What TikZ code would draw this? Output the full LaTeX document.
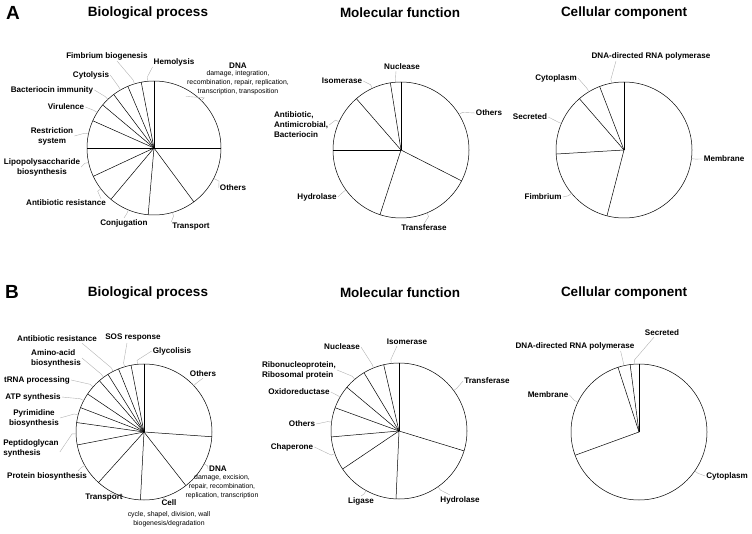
\documentclass[tikz,border=0pt]{standalone}
\usepackage{fontspec}
\setmainfont{Liberation Sans}
\usepackage{tikz}

\begin{document}
\begin{tikzpicture}[x=1pt,y=1pt,
  panel/.style={font=\fontsize{19}{22}\selectfont\bfseries},
  ptitle/.style={font=\fontsize{13.5}{16}\selectfont\bfseries},
  lbl/.style={font=\fontsize{8.1}{10}\selectfont\bfseries,inner sep=1pt,align=center},
  sub/.style={font=\fontsize{6.9}{9}\selectfont,inner sep=1pt,align=center},
  pie/.style={line width=0.5pt},
  leader/.style={draw=black!30,line width=0.4pt}]
\useasboundingbox (0,0) rectangle (752,-534);

% panel A
\node[panel] (lblA) at (13,-13) {A};
\node[ptitle] (tA1) at (148,-13) {Biological process};
\node[ptitle] (tA2) at (400,-13) {Molecular function};
\node[ptitle] (tA3) at (624,-13) {Cellular component};

% A, biological process
\coordinate (cA1) at (154,-148);
\draw[pie] (cA1) circle (67);
\foreach \a in {90,0,-53.5,-95,-130,-155,180,156,140,127,113,101}
  \draw[pie] (cA1) -- ++(\a:67);
\node[lbl] (a1dna) at (238,-66) {DNA};
\node[sub] (a1dnas) at (238,-83) {damage, integration,\\recombination, repair, replication,\\transcription, transposition};
\node[lbl] (a1oth) at (233,-188) {Others};
\node[lbl] (a1tra) at (191,-227) {Transport};
\node[lbl] (a1con) at (124,-223) {Conjugation};
\node[lbl] (a1ant) at (66,-203) {Antibiotic resistance};
\node[lbl] (a1lps) at (42,-167) {Lipopolysaccharide\\biosynthesis};
\node[lbl] (a1res) at (52,-136) {Restriction\\system};
\node[lbl] (a1vir) at (66,-107) {Virulence};
\node[lbl] (a1bac) at (52,-90) {Bacteriocin immunity};
\node[lbl] (a1cyt) at (91,-75) {Cytolysis};
\node[lbl] (a1fim) at (107,-56) {Fimbrium biogenesis};
\node[lbl] (a1hem) at (174,-62) {Hemolysis};
\draw[leader] ([shift={(45:67)}]cA1) -- ++(45:4) -- (a1dnas.south west);
\draw[leader] ([shift={(-27:67)}]cA1) -- ++(-27:6) -- (a1oth.west);
\draw[leader] ([shift={(-74:67)}]cA1) -- ++(-74:4) -- (a1tra.north west);
\draw[leader] ([shift={(-112.5:67)}]cA1) -- ++(-112.5:4) -- (a1con.north);
\draw[leader] ([shift={(-142.5:67)}]cA1) -- ++(-142.5:4) -- ([xshift=-6pt]a1ant.north east);
\draw[leader] ([shift={(-167.5:67)}]cA1) -- ++(-167.5:4) -- (a1lps.east);
\draw[leader] ([shift={(168:67)}]cA1) -- ++(168:4) -- (a1res.east);
\draw[leader] ([shift={(148:67)}]cA1) -- ++(148:4) -- (a1vir.east);
\draw[leader] ([shift={(133.5:67)}]cA1) -- ++(133.5:4) -- (a1bac.east);
\draw[leader] ([shift={(120:67)}]cA1) -- ++(120:4) -- (a1cyt.east);
\draw[leader] ([shift={(107:67)}]cA1) -- ++(107:4) -- ([xshift=10pt]a1fim.south);
\draw[leader] ([shift={(95.5:67)}]cA1) -- ++(95.5:4) -- (a1hem.south west);

% A, molecular function
\coordinate (cA2) at (401,-150);
\draw[pie] (cA2) circle (68);
\foreach \a in {90,99,131,180,-108,-27}
  \draw[pie] (cA2) -- ++(\a:68);
\node[lbl] (a2oth) at (489,-113) {Others};
\node[lbl] (a2tra) at (424,-228) {Transferase};
\node[lbl] (a2hyd) at (317,-197) {Hydrolase};
\node[lbl,align=left] (a2abc) at (301,-125) {Antibiotic,\\Antimicrobial,\\Bacteriocin};
\node[lbl] (a2iso) at (342,-81) {Isomerase};
\node[lbl] (a2nuc) at (402,-67) {Nuclease};
\draw[leader] ([shift={(31.5:68)}]cA2) -- ++(31.5:4) -- (a2oth.west);
\draw[leader] ([shift={(-67.5:68)}]cA2) -- ++(-67.5:4) -- (a2tra.north);
\draw[leader] ([shift={(-144:68)}]cA2) -- ++(-144:4) -- (a2hyd.east);
\draw[leader] ([shift={(155.5:68)}]cA2) -- ++(155.5:4) -- (a2abc.east);
\draw[leader] ([shift={(115:68)}]cA2) -- ++(115:4) -- (a2iso.east);
\draw[leader] ([shift={(94.5:68)}]cA2) -- ++(94.5:3) -- ([xshift=-6pt]a2nuc.south);

% A, cellular component
\coordinate (cA3) at (624,-150);
\draw[pie] (cA3) circle (68);
\foreach \a in {90,111,131,183.4,-104.5}
  \draw[pie] (cA3) -- ++(\a:68);
\node[lbl] (a3mem) at (724,-159) {Membrane};
\node[lbl] (a3fim) at (543,-197) {Fimbrium};
\node[lbl] (a3sec) at (530,-117) {Secreted};
\node[lbl] (a3cyt) at (556,-78) {Cytoplasm};
\node[lbl] (a3dna) at (651,-56) {DNA-directed RNA polymerase};
\draw[leader] ([shift={(-7.25:68)}]cA3) -- ++(-7.25:4) -- (a3mem.west);
\draw[leader] ([shift={(-140.5:68)}]cA3) -- ++(-140.5:4) -- (a3fim.east);
\draw[leader] ([shift={(157:68)}]cA3) -- ++(157:4) -- (a3sec.east);
\draw[leader] ([shift={(121:68)}]cA3) -- ++(121:4) -- (a3cyt.east);
\draw[leader] ([shift={(100.5:68)}]cA3) -- ++(100.5:4) -- ([xshift=-35pt]a3dna.south);

% panel B
\node[panel] (lblB) at (12,-292) {B};
\node[ptitle] (tB1) at (148,-293) {Biological process};
\node[ptitle] (tB2) at (400,-293) {Molecular function};
\node[ptitle] (tB3) at (624,-293) {Cellular component};

% B, biological process
\coordinate (cB1) at (144,-432);
\draw[pie] (cB1) circle (68);
\foreach \a in {90,-4,-52,-93,-132,-169,172,159,146,131,122,112,101}
  \draw[pie] (cB1) -- ++(\a:68);
\node[lbl] (b1oth) at (203,-374) {Others};
\node[lbl] (b1dna) at (218,-469) {DNA};
\node[sub] (b1dnas) at (222,-487) {damage, excision,\\repair, recombination,\\replication, transcription};
\node[lbl] (b1cel) at (169,-503) {Cell};
\node[sub] (b1cels) at (169,-519) {cycle, shapel, division, wall\\biogenesis/degradation};
\node[lbl] (b1tra) at (104,-498) {Transport};
\node[lbl] (b1pro) at (47,-476) {Protein biosynthesis};
\node[lbl,align=left] (b1pep) at (31,-448) {Peptidoglycan\\synthesis};
\node[lbl] (b1pyr) at (34,-418) {Pyrimidine\\biosynthesis};
\node[lbl] (b1atp) at (33,-397) {ATP synthesis};
\node[lbl] (b1trn) at (37,-380) {tRNA processing};
\node[lbl,align=left] (b1ami) at (56,-358) {Amino-acid\\biosynthesis};
\node[lbl] (b1abr) at (57,-339) {Antibiotic resistance};
\node[lbl] (b1sos) at (133,-338) {SOS response};
\node[lbl] (b1gly) at (172,-351) {Glycolisis};
\draw[leader] ([shift={(43:68)}]cB1) -- ++(43:4) -- (b1oth.south);
\draw[leader] ([shift={(-28:68)}]cB1) -- ++(-28:4) -- (b1dna.west);
\draw[leader] ([shift={(-72.5:68)}]cB1) -- ++(-72.5:1) -- ([xshift=-6pt]b1cel.north);
\draw[leader] ([shift={(-112.5:68)}]cB1) -- ++(-112.5:1) -- ([xshift=6pt]b1tra.north);
\draw[leader] ([shift={(-150.5:68)}]cB1) -- ++(-150.5:4) -- ([xshift=-10pt]b1pro.north east);
\draw[leader] ([shift={(-178.5:68)}]cB1) -- ++(-178.5:4) -- ([yshift=-4pt]b1pep.east);
\draw[leader] ([shift={(165.5:68)}]cB1) -- ++(165.5:4) -- (b1pyr.east);
\draw[leader] ([shift={(152.5:68)}]cB1) -- ++(152.5:4) -- (b1atp.east);
\draw[leader] ([shift={(138.5:68)}]cB1) -- ++(138.5:4) -- (b1trn.east);
\draw[leader] ([shift={(126.5:68)}]cB1) -- ++(126.5:4) -- (b1ami.east);
\draw[leader] ([shift={(117:68)}]cB1) -- ++(117:4) -- ([xshift=25pt]b1abr.south);
\draw[leader] ([shift={(106.5:68)}]cB1) -- ++(106.5:4) -- ([xshift=-6pt]b1sos.south);
\draw[leader] ([shift={(95.5:68)}]cB1) -- ++(95.5:4) -- (b1gly.west);

% B, molecular function
\coordinate (cB2) at (399,-431);
\draw[pie] (cB2) circle (68);
\foreach \a in {90,-17,-92.5,-146,-175,160,140,121,103}
  \draw[pie] (cB2) -- ++(\a:68);
\node[lbl] (b2tra) at (487,-381) {Transferase};
\node[lbl] (b2hyd) at (460,-500) {Hydrolase};
\node[lbl] (b2lig) at (361,-501) {Ligase};
\node[lbl] (b2cha) at (292,-447) {Chaperone};
\node[lbl] (b2oth) at (302,-424) {Others};
\node[lbl] (b2oxi) at (299,-392) {Oxidoreductase};
\node[lbl,align=left] (b2rib) at (299,-370) {Ribonucleoprotein,\\Ribosomal protein};
\node[lbl] (b2nuc) at (342,-347) {Nuclease};
\node[lbl] (b2iso) at (407,-342) {Isomerase};
\draw[leader] ([shift={(36.5:68)}]cB2) -- ++(36.5:4) -- (b2tra.west);
\draw[leader] ([shift={(-55:68)}]cB2) -- ++(-55:4) -- ([xshift=-10pt]b2hyd.north);
\draw[leader] ([shift={(-119:68)}]cB2) -- ++(-119:4) -- (b2lig.north);
\draw[leader] ([shift={(-160.5:68)}]cB2) -- ++(-160.5:4) -- (b2cha.east);
\draw[leader] ([shift={(172.5:68)}]cB2) -- ++(172.5:4) -- (b2oth.east);
\draw[leader] ([shift={(150:68)}]cB2) -- ++(150:4) -- (b2oxi.east);
\draw[leader] ([shift={(130.5:68)}]cB2) -- ++(130.5:4) -- (b2rib.east);
\draw[leader] ([shift={(112:68)}]cB2) -- ++(112:4) -- (b2nuc.east);
\draw[leader] ([shift={(96.5:68)}]cB2) -- ++(96.5:4) -- ([xshift=-10pt]b2iso.south);

% B, cellular component
\coordinate (cB3) at (639,-432);
\draw[pie] (cB3) circle (68);
\foreach \a in {90,200,108,97.5}
  \draw[pie] (cB3) -- ++(\a:68);
\node[lbl] (b3cyt) at (727,-476) {Cytoplasm};
\node[lbl] (b3mem) at (548,-395) {Membrane};
\node[lbl] (b3dna) at (575,-346) {DNA-directed RNA polymerase};
\node[lbl] (b3sec) at (662,-333) {Secreted};
\draw[leader] ([shift={(-35:68)}]cB3) -- ++(-35:4) -- (b3cyt.west);
\draw[leader] ([shift={(154:68)}]cB3) -- ++(154:4) -- (b3mem.east);
\draw[leader] ([shift={(102.75:68)}]cB3) -- ++(102.75:4) -- ([xshift=-15pt]b3dna.south east);
\draw[leader] ([shift={(93.75:68)}]cB3) -- ++(93.75:4) -- ([xshift=-8pt]b3sec.south);
\end{tikzpicture}
\end{document}
